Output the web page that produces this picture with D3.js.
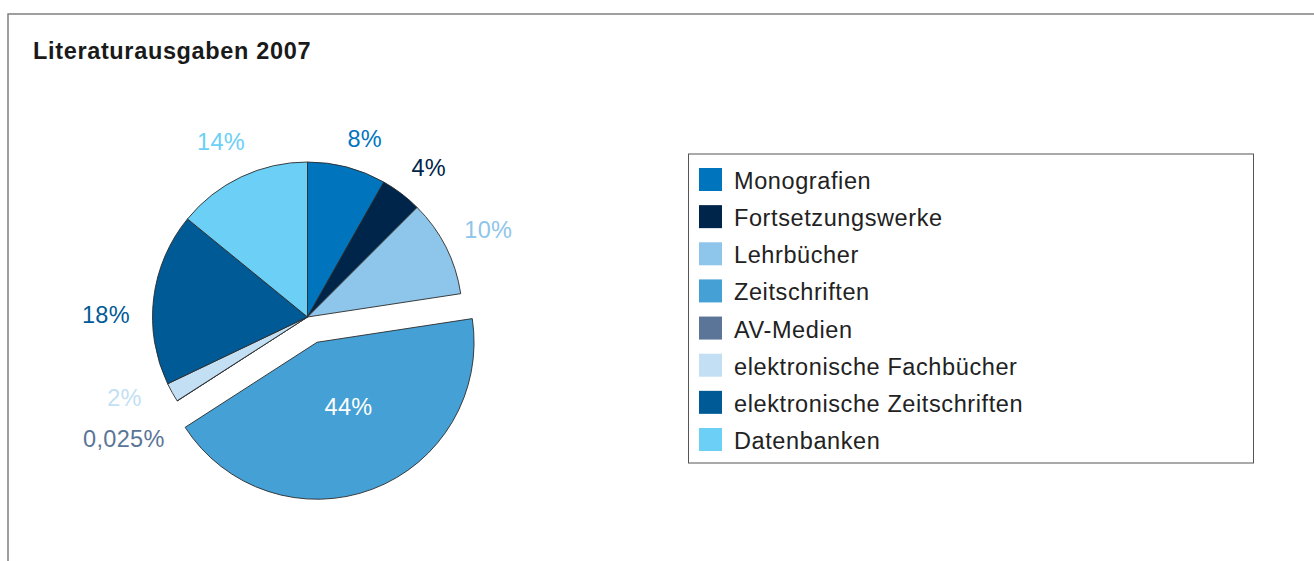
<!DOCTYPE html>
<html>
<head>
<meta charset="utf-8">
<script src="https://cdn.jsdelivr.net/npm/d3@7"></script>
<style>
  body { margin: 0; background: #fff; }
  svg { display: block; font-family: "Liberation Sans", Arial, sans-serif; }
</style>
</head>
<body>
<div id="chart"></div>
<script>
// data, clockwise from 12 o'clock
var categories = ["Monografien", "Fortsetzungswerke", "Lehrbücher", "Zeitschriften",
    "AV-Medien", "elektronische Fachbücher", "elektronische Zeitschriften", "Datenbanken"];
var shares = [8.2, 4.3, 10.1, 43.3, 0.025, 2.0, 18.0, 14.1];
var shareLabels = ["8%", "4%", "10%", "44%", "0,025%", "2%", "18%", "14%"];
var colors = ["#0075be", "#00254a", "#8ec5ea", "#45a1d5", "#5a7597", "#c3dff4", "#005a96", "#6ccff5"];
var title = "Literaturausgaben 2007";
var exploded = "Zeitschriften";

var width = 1314,
    height = 561,
    radius = 155,
    cx = 307.5,
    cy = 317;

// hand-placed label offsets (px) relative to the outer-arc position
var labelShift = {
    "Monografien": [7, 12],
    "Fortsetzungswerke": [2, 8],
    "Lehrbücher": [5, 2],
    "Zeitschriften": [4, -8],
    "AV-Medien": [-18, 15],
    "elektronische Fachbücher": [-11, -15],
    "elektronische Zeitschriften": [-6, 21],
    "Datenbanken": [-2, 3]
};

var rows = categories.map(function (c, i) {
    return { name: c, value: shares[i], label: shareLabels[i] };
});

var color = d3.scaleOrdinal().domain(categories).range(colors);

var svg = d3.select("#chart").append("svg")
    .attr("width", width)
    .attr("height", height);

// outer frame (open to the right and bottom)
svg.append("path")
    .attr("d", "M8," + height + "V14H" + width)
    .attr("fill", "none")
    .attr("stroke", "#808080")
    .attr("stroke-width", 1.5);

svg.append("text")
    .attr("x", 33)
    .attr("y", 59)
    .attr("font-size", 23.5)
    .attr("font-weight", "bold")
    .attr("letter-spacing", 0.65)
    .attr("fill", "#1a1a1a")
    .text(title);

var pie = d3.pie()
    .sort(null)
    .value(function (d) { return d.value; });

var arc = d3.arc()
    .innerRadius(0)
    .outerRadius(function (d) { return d.data.name === exploded ? radius + 2 : radius; });

var labelArc = d3.arc()
    .innerRadius(197)
    .outerRadius(197);

var innerArc = d3.arc()
    .innerRadius(0)
    .outerRadius(radius);

function midAngle(d) {
    return d.startAngle + (d.endAngle - d.startAngle) / 2;
}

function offset(d) {
    if (d.data.name !== exploded) return [0, 0];
    var a = midAngle(d);
    return [27 * Math.sin(a), -27 * Math.cos(a)];
}

var arcs = pie(rows);

var g = svg.append("g")
    .attr("transform", "translate(" + cx + "," + cy + ")");

g.append("g").attr("class", "slices")
    .selectAll("path")
    .data(arcs)
    .enter().append("path")
    .attr("transform", function (d) { return "translate(" + offset(d) + ")"; })
    .attr("d", arc)
    .attr("fill", function (d) { return color(d.data.name); })
    .attr("stroke", "#2b2b2b")
    .attr("stroke-width", 0.9)
    .attr("stroke-linejoin", "round");

g.append("g").attr("class", "labels")
    .selectAll("text")
    .data(arcs)
    .enter().append("text")
    .attr("transform", function (d) {
        var pos = d.data.name === exploded ? innerArc.centroid(d) : labelArc.centroid(d);
        var off = offset(d);
        var s = labelShift[d.data.name] || [0, 0];
        return "translate(" + (pos[0] + off[0] + s[0]) + "," + (pos[1] + off[1] + s[1]) + ")";
    })
    .attr("dy", "0.35em")
    .attr("text-anchor", "middle")
    .attr("font-size", 23.5)
    .attr("letter-spacing", 0.3)
    .attr("fill", function (d) { return d.data.name === exploded ? "#ffffff" : color(d.data.name); })
    .text(function (d) { return d.data.label; });

/* ------- LEGEND -------*/
var legendX = 688.5,
    legendTop = 154,
    legendW = 565,
    legendH = 309;

var legend = svg.append("g").attr("class", "legend");

legend.append("rect")
    .attr("x", legendX)
    .attr("y", legendTop)
    .attr("width", legendW)
    .attr("height", legendH)
    .attr("fill", "#fff")
    .attr("stroke", "#555")
    .attr("stroke-width", 1);

var rowY = d3.scaleBand()
    .domain(categories)
    .range([168, 168 + 37.14 * categories.length]);

var item = legend.selectAll("g.item")
    .data(categories)
    .enter().append("g")
    .attr("class", "item")
    .attr("transform", function (d) { return "translate(0," + rowY(d) + ")"; });

item.append("rect")
    .attr("x", 699)
    .attr("y", 0)
    .attr("width", 23)
    .attr("height", 23)
    .attr("fill", function (d) { return color(d); });

item.append("text")
    .attr("x", 734)
    .attr("y", 21)
    .attr("font-size", 23.5)
    .attr("letter-spacing", 0.6)
    .attr("fill", "#222")
    .text(function (d) { return d; });
</script>
</body>
</html>
